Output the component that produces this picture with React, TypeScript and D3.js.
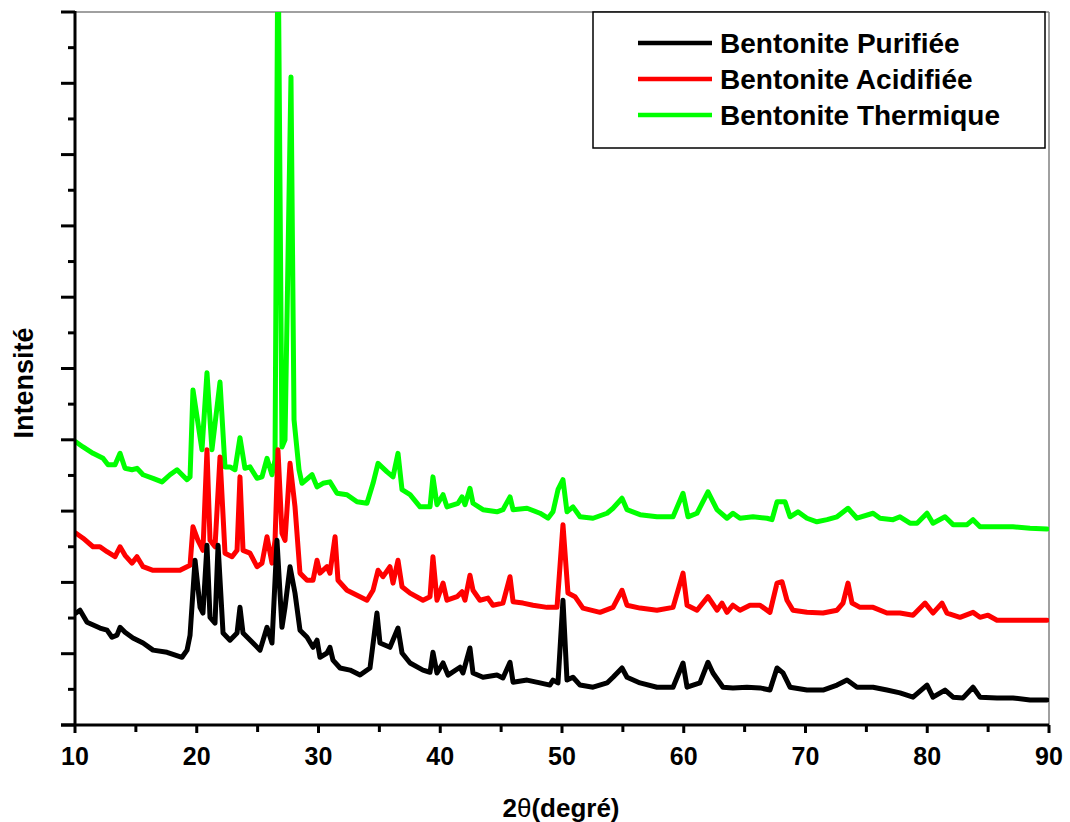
import React from "react";
import * as d3 from "d3";

// XRD patterns: [2θ (°), intensity (arbitrary units, stacked)]
const purifiee: [number, number][] = [
  [10.08, 1.57], [10.41, 1.61], [10.99, 1.44], [12.05, 1.36], [12.63, 1.33], [13.04, 1.23],
  [13.45, 1.26], [13.7, 1.37], [14.11, 1.3], [14.76, 1.22], [15.59, 1.15], [16.41, 1.05],
  [17.56, 1.02], [18.79, 0.95], [19.2, 1.05], [19.45, 1.26], [19.86, 2.31], [20.27, 1.65],
  [20.51, 1.57], [20.84, 2.52], [21.09, 1.51], [21.5, 1.43], [21.75, 2.52], [22.16, 1.29],
  [22.73, 1.19], [23.31, 1.29], [23.55, 1.65], [23.8, 1.29], [24.62, 1.15], [25.2, 1.05],
  [25.77, 1.37], [26.18, 1.15], [26.59, 2.59], [27.0, 1.37], [27.25, 1.65], [27.66, 2.22],
  [28.07, 1.85], [28.48, 1.33], [29.06, 1.23], [29.55, 1.09], [29.88, 1.19], [30.12, 0.95],
  [30.7, 1.01], [30.94, 1.09], [31.19, 0.91], [31.77, 0.8], [32.59, 0.77], [33.41, 0.7],
  [34.23, 0.8], [34.8, 1.57], [35.05, 1.15], [35.87, 1.09], [36.53, 1.36], [36.86, 1.01],
  [37.52, 0.87], [38.58, 0.77], [39.16, 0.74], [39.4, 1.02], [39.73, 0.73], [40.23, 0.87],
  [40.64, 0.7], [41.62, 0.81], [41.87, 0.73], [42.44, 1.08], [42.69, 0.73], [43.51, 0.67],
  [44.66, 0.7], [45.15, 0.66], [45.73, 0.88], [45.98, 0.6], [47.13, 0.63], [48.19, 0.59],
  [49.01, 0.56], [49.26, 0.63], [49.67, 0.59], [50.08, 1.75], [50.41, 0.63], [50.9, 0.67],
  [51.48, 0.56], [52.55, 0.53], [53.7, 0.59], [54.19, 0.67], [54.93, 0.8], [55.34, 0.67],
  [56.41, 0.59], [57.8, 0.53], [59.12, 0.53], [59.94, 0.87], [60.27, 0.53], [61.33, 0.59],
  [61.99, 0.88], [62.4, 0.73], [63.22, 0.53], [64.04, 0.52], [65.19, 0.53], [66.26, 0.52],
  [67.08, 0.49], [67.66, 0.8], [68.15, 0.73], [68.73, 0.53], [70.12, 0.49], [71.44, 0.49],
  [72.59, 0.56], [73.41, 0.63], [74.23, 0.53], [75.55, 0.53], [76.69, 0.49], [77.76, 0.45],
  [78.83, 0.39], [79.98, 0.56], [80.47, 0.39], [81.46, 0.49], [82.12, 0.39], [82.94, 0.38],
  [83.76, 0.53], [84.33, 0.39], [85.73, 0.38], [87.04, 0.38], [88.44, 0.35], [89.84, 0.35],
];

const acidifiee: [number, number][] = [
  [10.08, 2.69], [10.66, 2.62], [11.48, 2.5], [12.05, 2.5], [12.63, 2.43], [13.29, 2.36],
  [13.7, 2.5], [14.11, 2.38], [14.68, 2.27], [15.09, 2.36], [15.59, 2.22], [16.41, 2.17],
  [17.56, 2.17], [18.62, 2.17], [19.2, 2.22], [19.45, 2.24], [19.69, 2.78], [20.1, 2.59],
  [20.51, 2.45], [20.84, 3.86], [21.09, 2.59], [21.5, 2.5], [21.91, 3.76], [22.32, 2.41],
  [22.9, 2.36], [23.31, 2.45], [23.55, 3.48], [23.8, 2.45], [24.37, 2.41], [24.95, 2.22],
  [25.36, 2.27], [25.77, 2.64], [26.18, 2.27], [26.43, 2.59], [26.67, 3.86], [27.0, 2.69],
  [27.25, 2.59], [27.66, 3.67], [28.07, 3.06], [28.48, 2.13], [29.06, 2.03], [29.55, 2.03],
  [29.88, 2.31], [30.12, 2.13], [30.7, 2.22], [30.94, 2.13], [31.36, 2.64], [31.6, 2.03],
  [32.34, 1.89], [33.16, 1.82], [33.98, 1.75], [34.48, 1.89], [34.89, 2.17], [35.3, 2.08],
  [35.87, 2.22], [36.12, 1.99], [36.53, 2.31], [36.86, 1.94], [37.52, 1.85], [38.58, 1.75],
  [39.16, 1.8], [39.4, 2.36], [39.73, 1.75], [40.23, 1.99], [40.55, 1.75], [41.38, 1.8],
  [41.79, 1.87], [42.03, 1.75], [42.44, 2.1], [42.69, 1.89], [43.26, 1.75], [43.92, 1.78],
  [44.33, 1.68], [45.15, 1.71], [45.73, 2.08], [45.98, 1.73], [46.8, 1.71], [47.62, 1.68],
  [48.77, 1.65], [49.59, 1.65], [50.08, 2.81], [50.49, 1.85], [51.07, 1.8], [51.72, 1.64],
  [53.12, 1.58], [54.19, 1.65], [54.93, 1.89], [55.34, 1.68], [56.41, 1.64], [57.8, 1.61],
  [59.12, 1.65], [59.94, 2.13], [60.27, 1.68], [61.09, 1.61], [61.99, 1.8], [62.73, 1.61],
  [63.14, 1.71], [63.55, 1.58], [64.04, 1.68], [64.62, 1.61], [65.44, 1.68], [66.26, 1.68],
  [67.08, 1.58], [67.66, 1.99], [68.07, 2.01], [68.48, 1.75], [68.97, 1.61], [70.12, 1.58],
  [71.44, 1.57], [72.59, 1.61], [73.08, 1.71], [73.49, 1.99], [73.82, 1.71], [74.48, 1.65],
  [75.55, 1.65], [76.69, 1.57], [77.76, 1.57], [78.83, 1.54], [79.82, 1.71], [80.47, 1.57],
  [81.21, 1.71], [81.62, 1.57], [82.69, 1.51], [83.76, 1.58], [84.33, 1.51], [84.99, 1.54],
  [85.73, 1.47], [87.04, 1.47], [88.44, 1.47], [89.84, 1.47],
];

const thermique: [number, number][] = [
  [10.08, 3.97], [10.66, 3.9], [11.48, 3.81], [12.3, 3.74], [12.71, 3.65], [13.29, 3.65],
  [13.7, 3.81], [14.11, 3.6], [14.68, 3.58], [15.09, 3.6], [15.59, 3.51], [16.41, 3.46],
  [17.15, 3.41], [17.8, 3.51], [18.38, 3.58], [19.2, 3.44], [19.45, 3.48], [19.69, 4.7],
  [20.43, 3.86], [20.84, 4.94], [21.25, 3.86], [21.91, 4.81], [22.32, 3.62], [22.73, 3.62],
  [23.14, 3.58], [23.55, 4.03], [23.96, 3.6], [24.37, 3.62], [24.95, 3.46], [25.36, 3.48],
  [25.77, 3.74], [26.18, 3.51], [26.43, 3.72], [26.67, 11.3], [27.0, 3.9], [27.25, 4.0],
  [27.74, 9.09], [27.99, 4.28], [28.4, 3.58], [28.64, 3.39], [29.47, 3.51], [29.88, 3.34],
  [30.37, 3.39], [30.94, 3.41], [31.52, 3.25], [32.34, 3.23], [33.16, 3.13], [33.98, 3.11],
  [34.48, 3.39], [34.89, 3.67], [35.63, 3.55], [36.12, 3.48], [36.53, 3.81], [36.86, 3.3],
  [37.52, 3.23], [38.34, 3.06], [39.16, 3.06], [39.4, 3.48], [39.73, 3.09], [40.23, 3.23],
  [40.55, 3.06], [41.46, 3.11], [41.79, 3.2], [42.03, 3.09], [42.44, 3.32], [42.69, 3.11],
  [43.51, 3.02], [44.66, 2.99], [45.15, 3.02], [45.73, 3.2], [45.98, 3.02], [47.13, 3.04],
  [48.19, 2.97], [48.85, 2.9], [49.26, 2.99], [49.67, 3.3], [50.08, 3.44], [50.41, 2.99],
  [50.9, 3.06], [51.48, 2.92], [52.55, 2.9], [53.7, 2.97], [54.19, 3.04], [54.93, 3.18],
  [55.34, 3.02], [56.41, 2.95], [57.8, 2.92], [59.12, 2.92], [59.94, 3.25], [60.35, 2.92],
  [61.09, 2.97], [61.99, 3.27], [62.73, 3.02], [63.55, 2.9], [64.04, 2.97], [64.62, 2.9],
  [65.69, 2.92], [66.84, 2.9], [67.25, 2.88], [67.66, 3.13], [68.32, 3.13], [68.73, 2.92],
  [69.38, 2.99], [70.12, 2.9], [70.94, 2.85], [71.77, 2.88], [72.59, 2.92], [73.49, 3.04],
  [74.23, 2.9], [75.55, 2.97], [76.12, 2.9], [77.19, 2.88], [77.76, 2.92], [78.58, 2.83],
  [79.16, 2.83], [79.98, 2.97], [80.47, 2.83], [81.46, 2.92], [82.12, 2.81], [83.27, 2.81],
  [83.76, 2.88], [84.33, 2.78], [85.73, 2.78], [87.04, 2.78], [88.44, 2.76], [89.84, 2.75],
];

const seriesNames = ["Bentonite Purifiée", "Bentonite Acidifiée", "Bentonite Thermique"];
const seriesColors = ["#000000", "#ff0000", "#00ff00"];
const xTickValues = [10, 20, 30, 40, 50, 60, 70, 80, 90];
const xMinorValues = [15, 25, 35, 45, 55, 65, 75, 85];
const yMajorValues = [0, 1, 2, 3, 4, 5, 6, 7, 8, 9, 10];
const yMinorValues = [0.5, 1.5, 2.5, 3.5, 4.5, 5.5, 6.5, 7.5, 8.5, 9.5];

const W = 1070;
const H = 822;
const L = 75;
const R = 1049;
const T = 12;
const B = 725;
const FONT = "'Liberation Sans', Arial, Helvetica, sans-serif";

export default function App() {
  const x = d3.scaleLinear().domain([10, 90]).range([L, R]);
  const y = d3.scaleLinear().domain([0, 10]).range([B, T]);
  const line = d3
    .line<[number, number]>()
    .x((d) => x(d[0]))
    .y((d) => y(d[1]));

  const data = [purifiee, acidifiee, thermique];
  // draw order: green underneath, black on top
  const order = [2, 1, 0];

  return (
    <svg
      width={W}
      height={H}
      style={{ position: "absolute", left: 0, top: 0, background: "#fff" }}
      fontFamily={FONT}
    >
      <defs>
        <clipPath id="plotArea">
          <rect x={L} y={T} width={R - L} height={B - T} />
        </clipPath>
      </defs>
      <rect x={0} y={0} width={W} height={H} fill="#fff" />

      {/* frame: top and right edges */}
      <line x1={L} y1={T} x2={R} y2={T} stroke="#808080" strokeWidth={1.5} />
      <line x1={R} y1={T} x2={R} y2={B} stroke="#808080" strokeWidth={1.5} />

      <g clipPath="url(#plotArea)">
        {order.map((i) => (
          <path
            key={i}
            d={line(data[i]) || ""}
            fill="none"
            stroke={seriesColors[i]}
            strokeWidth={5}
            strokeLinejoin="round"
            strokeLinecap="round"
          />
        ))}
      </g>

      {/* y axis */}
      <line x1={L} y1={T - 1} x2={L} y2={B + 1} stroke="#000" strokeWidth={3} />
      {yMajorValues.map((v) => (
        <line key={"ym" + v} x1={L - 14} y1={y(v)} x2={L} y2={y(v)} stroke="#000" strokeWidth={3} />
      ))}
      {yMinorValues.map((v) => (
        <line key={"yn" + v} x1={L - 7} y1={y(v)} x2={L} y2={y(v)} stroke="#000" strokeWidth={3} />
      ))}

      {/* x axis */}
      <line x1={L - 14} y1={B} x2={R} y2={B} stroke="#000" strokeWidth={3} />
      {xTickValues.map((v) => (
        <g key={"xm" + v}>
          <line x1={x(v)} y1={B} x2={x(v)} y2={B + 8} stroke="#000" strokeWidth={3} />
          <text
            x={x(v)}
            y={765}
            textAnchor="middle"
            fontSize={25}
            fontWeight="bold"
            fill="#000"
          >
            {v}
          </text>
        </g>
      ))}
      {xMinorValues.map((v) => (
        <line key={"xn" + v} x1={x(v)} y1={B} x2={x(v)} y2={B + 7} stroke="#000" strokeWidth={3} />
      ))}

      {/* axis titles */}
      <text x={561} y={817} textAnchor="middle" fontSize={26} fontWeight="bold" fill="#000">
        2<tspan fontWeight="normal">θ</tspan>(degré)
      </text>
      <text
        transform="translate(33,383) rotate(-90)"
        textAnchor="middle"
        fontSize={27}
        fontWeight="bold"
        fill="#000"
      >
        Intensité
      </text>

      {/* legend */}
      <rect x={593} y={12} width={452} height={136} fill="#fff" stroke="#000" strokeWidth={1.5} />
      {seriesNames.map((name, i) => (
        <g key={name}>
          <line
            x1={638}
            y1={43 + i * 36}
            x2={712}
            y2={43 + i * 36}
            stroke={seriesColors[i]}
            strokeWidth={4.5}
          />
          <text x={720} y={53 + i * 36} fontSize={28} fontWeight="bold" fill="#000">
            {name}
          </text>
        </g>
      ))}
    </svg>
  );
}
